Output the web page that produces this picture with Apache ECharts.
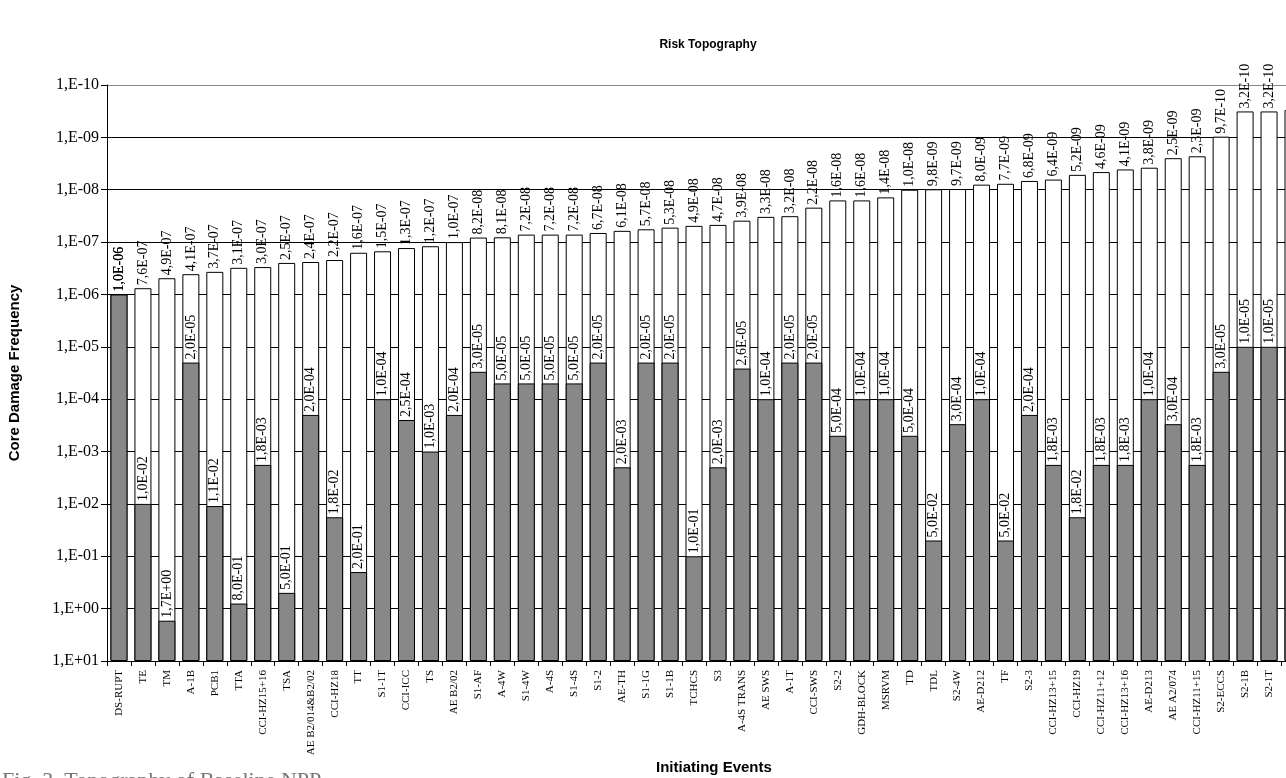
<!DOCTYPE html>
<html>
<head>
<meta charset="utf-8">
<script src="https://cdn.jsdelivr.net/npm/echarts@6/dist/echarts.min.js"></script>
<style>
  html, body { margin: 0; padding: 0; background: #fff; overflow: hidden; }
  #chart { width: 1286px; height: 778px; }
</style>
</head>
<body>
<div id="chart"></div>
<script>
// initiating events, sorted by core damage frequency
const events = [
  "DS-RUPT", "TE", "TM", "A-1B", "PCB1", "TTA", "CCI-HZ15+16", "TSA", "AE B2/014&B2/02", "CCI-HZ18",
  "TT", "S1-1T", "CCI-ICC", "TS", "AE B2/02", "S1-AF", "A-4W", "S1-4W", "A-4S", "S1-4S",
  "S1-2", "AE-TH", "S1-1G", "S1-1B", "TCHCS", "S3", "A-4S TRANS", "AE SWS", "A-1T", "CCI-SWS",
  "S2-2", "GDH-BLOCK", "MSRVM", "TD", "TDL", "S2-4W", "AE-D212", "TF", "S2-3", "CCI-HZ13+15",
  "CCI-HZ19", "CCI-HZ11+12", "CCI-HZ13+16", "AE-D213", "AE A2/074", "CCI-HZ11+15", "S2-ECCS", "S2-1B", "S2-1T", ""
];

// core damage frequency (white bars)
const cdf = [
  1.0e-6, 7.6e-7, 4.9e-7, 4.1e-7, 3.7e-7, 3.1e-7, 3.0e-7, 2.5e-7, 2.4e-7, 2.2e-7,
  1.6e-7, 1.5e-7, 1.3e-7, 1.2e-7, 1.0e-7, 8.2e-8, 8.1e-8, 7.2e-8, 7.2e-8, 7.2e-8,
  6.7e-8, 6.1e-8, 5.7e-8, 5.3e-8, 4.9e-8, 4.7e-8, 3.9e-8, 3.3e-8, 3.2e-8, 2.2e-8,
  1.6e-8, 1.6e-8, 1.4e-8, 1.0e-8, 9.8e-9, 9.7e-9, 8.0e-9, 7.7e-9, 6.8e-9, 6.4e-9,
  5.2e-9, 4.6e-9, 4.1e-9, 3.8e-9, 2.5e-9, 2.3e-9, 9.7e-10, 3.2e-10, 3.2e-10, 3.0e-10
];

// initiating event frequency (grey bars)
const ieFreq = [
  1.0e-6, 1.0e-2, 1.7e+0, 2.0e-5, 1.1e-2, 8.0e-1, 1.8e-3, 5.0e-1, 2.0e-4, 1.8e-2,
  2.0e-1, 1.0e-4, 2.5e-4, 1.0e-3, 2.0e-4, 3.0e-5, 5.0e-5, 5.0e-5, 5.0e-5, 5.0e-5,
  2.0e-5, 2.0e-3, 2.0e-5, 2.0e-5, 1.0e-1, 2.0e-3, 2.6e-5, 1.0e-4, 2.0e-5, 2.0e-5,
  5.0e-4, 1.0e-4, 1.0e-4, 5.0e-4, 5.0e-2, 3.0e-4, 1.0e-4, 5.0e-2, 2.0e-4, 1.8e-3,
  1.8e-2, 1.8e-3, 1.8e-3, 1.0e-4, 3.0e-4, 1.8e-3, 3.0e-5, 1.0e-5, 1.0e-5, 1.0e-5
];

// the axis runs from 1E+01 at the bottom up to 1E-10 at the top
const topExp = 1;

function depth(v) { return topExp - Math.log10(v); }

function sci(v) {
  const [m, e] = v.toExponential(1).split("e");
  const n = parseInt(e, 10);
  return m.replace(".", ",") + "E" + (n < 0 ? "-" : "+") + String(Math.abs(n)).padStart(2, "0");
}

function expLabel(t) {
  const n = Math.round(topExp - t);
  return "1,E" + (n < 0 ? "-" : "+") + String(Math.abs(n)).padStart(2, "0");
}

const serif = "'Liberation Serif', 'DejaVu Serif', serif";
const sans = "'Liberation Sans', Arial, sans-serif";

const chart = echarts.init(document.getElementById("chart"));

const valueLabel = (src) => ({
  show: true,
  position: "top",
  rotate: 90,
  align: "left",
  verticalAlign: "middle",
  distance: 3,
  color: "#000",
  fontFamily: serif,
  fontSize: 14,
  formatter: (p) => (events[p.dataIndex] !== "" ? sci(src[p.dataIndex]) : ""),
});

chart.setOption({
  animation: false,
  title: {
    text: "Risk Topography",
    left: 703,
    top: 34,
    textAlign: "center",
    textStyle: { fontFamily: sans, fontSize: 12, fontWeight: "bold", color: "#000" },
  },
  // the plot runs past the right edge of the page, the last bar is cut off
  grid: { left: 107, top: 85, width: 1198, bottom: 117, containLabel: false, outerBoundsMode: "none" },
  xAxis: {
    type: "category",
    data: events,
    axisLine: { lineStyle: { color: "#000", width: 1 } },
    axisTick: { show: true, length: 5, lineStyle: { color: "#000" } },
    axisLabel: {
      interval: 0,
      rotate: 90,
      margin: 9,
      fontFamily: serif,
      fontSize: 11,
      color: "#000",
    },
    splitLine: { show: false },
  },
  yAxis: {
    type: "value",
    min: 0,
    max: 11,
    interval: 1,
    name: "Core Damage Frequency",
    nameLocation: "middle",
    nameGap: 85,
    nameTextStyle: { fontFamily: sans, fontSize: 15, fontWeight: "bold", color: "#000" },
    axisLine: { show: true, lineStyle: { color: "#000", width: 1 } },
    axisTick: { show: true, length: 6, lineStyle: { color: "#000" } },
    axisLabel: {
      formatter: expLabel,
      fontFamily: serif,
      fontSize: 16,
      color: "#000",
      margin: 8,
    },
    splitLine: {
      show: true,
      lineStyle: {
        width: 1,
        color: ["#000", "#000", "#000", "#000", "#000", "#000", "#000", "#000", "#000", "#000", "#000", "#888"],
      },
    },
  },
  graphic: [
    {
      type: "text",
      left: 656,
      top: 760,
      style: { text: "Initiating Events", font: "bold 15px " + sans, fill: "#000" },
    },
    {
      // figure caption, mostly cut off by the bottom edge
      type: "text",
      left: 2,
      top: 770,
      style: { text: "Fig. 3. Topography of Baseline NPP", font: "22px " + serif, fill: "#777" },
    },
  ],
  series: [
    {
      name: "Core damage frequency",
      type: "bar",
      data: cdf.map(depth),
      barWidth: 17,
      barGap: "-100%",
      itemStyle: { color: "#fff", borderColor: "#000", borderWidth: 1 },
      label: valueLabel(cdf),
    },
    {
      name: "Initiating event frequency",
      type: "bar",
      data: ieFreq.map(depth),
      barWidth: 17,
      barGap: "-100%",
      itemStyle: { color: "#888", borderColor: "#000", borderWidth: 1 },
      label: valueLabel(ieFreq),
    },
  ],
});
</script>
</body>
</html>
